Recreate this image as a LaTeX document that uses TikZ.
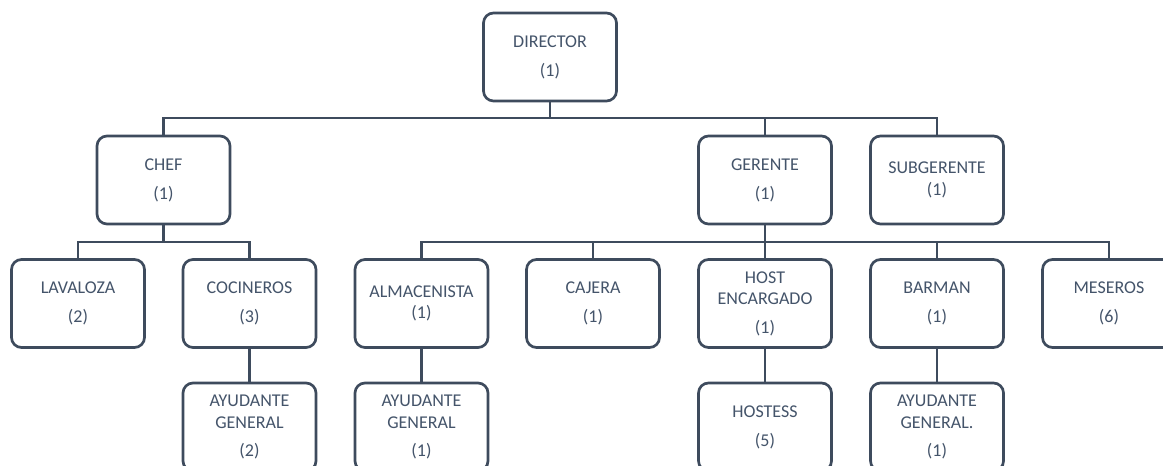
\documentclass[tikz,border=0pt]{standalone}
\usepackage{fontspec}
\setmainfont{Carlito}
\definecolor{orgtext}{HTML}{44546A}
\definecolor{orgline}{HTML}{3E4B5D}

\begin{document}
\begin{tikzpicture}[x=0.75pt,y=-0.75pt,
    puesto/.style={draw=orgline,line width=2pt,rounded corners=7.5pt,fill=white,
        minimum width=99.75pt,minimum height=66pt,align=center,text=orgtext,
        font=\fontsize{13.5}{16.3}\selectfont},
    linea/.style={draw=orgline,line width=2pt}]
    \useasboundingbox (0,0) rectangle (1163,466);
    \clip (0,0) rectangle (1163,466);

    \coordinate (busA) at (550,118);
    \coordinate (busB) at (163.5,242);
    \coordinate (busC) at (765,242);

    % lines first, boxes over them
    \node[puesto] (director) at (550,57) {DIRECTOR\\[5.5pt](1)};
    \node[puesto] (chef) at (163.5,180) {CHEF\\[5.5pt](1)};
    \node[puesto] (gerente) at (765,180) {GERENTE\\[5.5pt](1)};
    \node[puesto] (subgerente) at (937,180) {SUBGERENTE\\(1)};

    \node[puesto] (lavaloza) at (78,303.5) {LAVALOZA\\[5.5pt](2)};
    \node[puesto] (cocineros) at (249.5,303.5) {COCINEROS\\[5.5pt](3)};
    \node[puesto] (almacenista) at (421.5,303.5) {ALMACENISTA\\(1)};
    \node[puesto] (cajera) at (593,303.5) {CAJERA\\[5.5pt](1)};
    \node[puesto] (host) at (765,303.5) {HOST\\ENCARGADO\\[5pt](1)};
    \node[puesto] (barman) at (937,303.5) {BARMAN\\[5.5pt](1)};
    \node[puesto] (meseros) at (1109,303.5) {MESEROS\\[5.5pt](6)};

    \node[puesto] (ayudanteA) at (249.5,427) {AYUDANTE\\GENERAL\\[5pt](2)};
    \node[puesto] (ayudanteB) at (421.5,427) {AYUDANTE\\GENERAL\\[5pt](1)};
    \node[puesto] (hostess) at (765,427) {HOSTESS\\[5.5pt](5)};
    \node[puesto] (ayudanteC) at (937,427) {AYUDANTE\\GENERAL.\\[5pt](1)};

    % director
    \draw[linea] (director.south) -- (busA);
    \draw[linea] (chef.north) |- (busA) -| (subgerente.north);
    \draw[linea] (busA) -| (gerente.north);

    % chef
    \draw[linea] (chef.south) -- (busB);
    \draw[linea] (lavaloza.north) |- (busB) -| (cocineros.north);
    \draw[linea] (cocineros.south) -- (ayudanteA.north);

    % gerente
    \draw[linea] (gerente.south) -- (host.north);
    \draw[linea] (almacenista.north) |- (busC) -| (meseros.north);
    \draw[linea] (busC) -| (cajera.north);
    \draw[linea] (busC) -| (barman.north);
    \draw[linea] (almacenista.south) -- (ayudanteB.north);
    \draw[linea] (host.south) -- (hostess.north);
    \draw[linea] (barman.south) -- (ayudanteC.north);
\end{tikzpicture}
\end{document}
